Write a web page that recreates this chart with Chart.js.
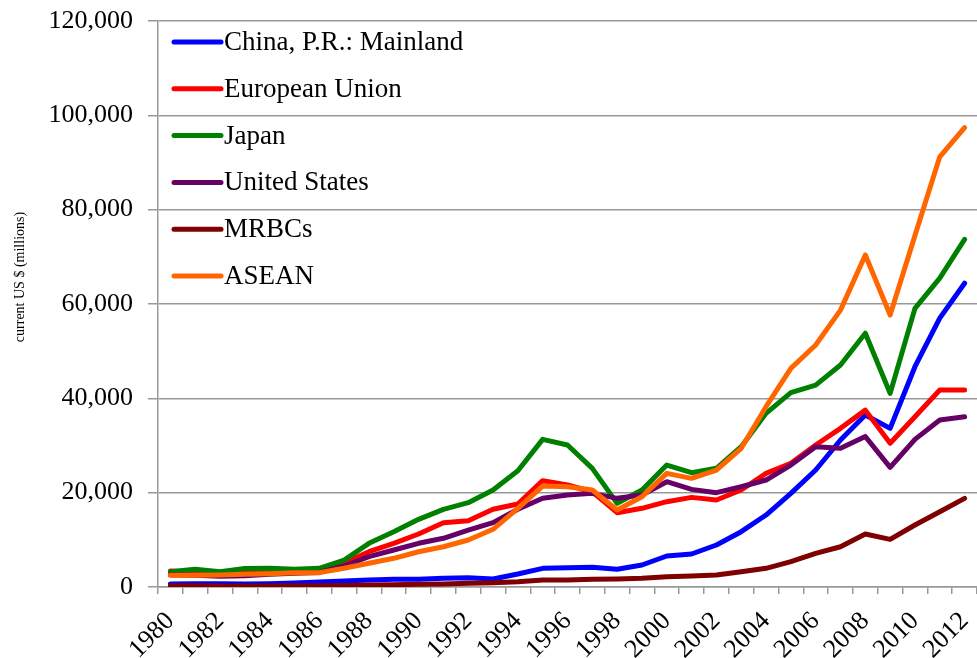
<!DOCTYPE html>
<html>
<head>
<meta charset="utf-8">
<script src="https://cdn.jsdelivr.net/npm/chart.js@4/dist/chart.umd.min.js"></script>
<style>
    body { margin: 0; background: #fff; }
    #wrap { width: 977px; height: 658px; }
</style>
</head>
<body>
<div id="wrap"><canvas id="fdiChart" width="977" height="658"></canvas></div>
<script>

/* =======================
   DADOS
======================= */

const years = [
    "1980","1981","1982","1983","1984","1985","1986","1987","1988","1989",
    "1990","1991","1992","1993","1994","1995","1996","1997","1998","1999",
    "2000","2001","2002","2003","2004","2005","2006","2007","2008","2009",
    "2010","2011","2012"
];

const china = [
    640, 700, 700, 650, 700, 850, 1060, 1270, 1480, 1630,
    1630, 1840, 1970, 1700, 2760, 3960, 4100, 4170, 3750, 4660,
    6570, 7000, 8900, 11730, 15260, 19860, 24800, 31160, 36460, 33640,
    46700, 57000, 64400
];

const europeanUnion = [
    3400, 3200, 3000, 3000, 3100, 3200, 3300, 5150, 7480, 9260,
    11240, 13640, 14060, 16470, 17600, 22540, 21620, 20200, 15760, 16680,
    18090, 19000, 18440, 20560, 24100, 26220, 30100, 33640, 37500, 30460,
    36100, 41760, 41760
];

const japan = [
    3250, 3750, 3250, 3900, 3960, 3750, 3960, 5720, 9260, 11730,
    14350, 16470, 17880, 20560, 24660, 31300, 30100, 25160, 17740, 20560,
    25860, 24240, 25160, 29750, 36820, 41200, 42800, 47060, 53800, 41060,
    59080, 65500, 73700
];

const unitedStates = [
    2600, 2500, 2300, 2400, 2690, 2900, 3100, 4450, 6430, 7840,
    9260, 10320, 12080, 13640, 16470, 18800, 19500, 19860, 18800, 19500,
    22330, 20700, 20000, 21260, 22680, 25860, 29750, 29400, 31900, 25370,
    31300, 35400, 36100
];

const mrbcs = [
    280, 250, 230, 220, 230, 250, 280, 320, 420, 500,
    570, 640, 780, 920, 1130, 1480, 1480, 1630, 1700, 1840,
    2190, 2330, 2540, 3250, 3960, 5370, 7140, 8540, 11240, 10100,
    13140, 15960, 18800
];

const asean = [
    2500, 2500, 2540, 2690, 2830, 3040, 3040, 3960, 5020, 6080,
    7480, 8540, 9960, 12230, 16680, 21400, 21260, 20560, 16320, 19150,
    24100, 23040, 24800, 29400, 38230, 46360, 51300, 58700, 70400, 57660,
    74500, 91200, 97400
];

const seriesNames = [
    "China, P.R.: Mainland",
    "European Union",
    "Japan",
    "United States",
    "MRBCs",
    "ASEAN"
];

const seriesColors = ["#0000FF", "#FF0000", "#008000", "#660066", "#7F0000", "#FF6600"];

const yAxisTitle = "current US $ (millions)";

/* =======================
   LEGENDA E TITULO
======================= */

const FONT = "'Liberation Serif', 'Times New Roman', serif";

const customDecor = {
    id: "customDecor",
    afterDraw(chart) {

        const ctx = chart.ctx;

        ctx.save();

        chart.data.datasets.forEach((ds, i) => {

            const y = 42 + i * 46.8;

            ctx.strokeStyle = ds.borderColor;
            ctx.lineWidth = 5;
            ctx.lineCap = "round";
            ctx.beginPath();
            ctx.moveTo(174, y);
            ctx.lineTo(221, y);
            ctx.stroke();

            ctx.fillStyle = "#000";
            ctx.font = "27px " + FONT;
            ctx.textAlign = "left";
            ctx.textBaseline = "middle";
            ctx.fillText(ds.label, 224, y + 1);
        });

        // titulo do eixo y
        ctx.translate(20, 277);
        ctx.rotate(-Math.PI / 2);
        ctx.font = "14px " + FONT;
        ctx.textAlign = "center";
        ctx.textBaseline = "middle";
        ctx.fillText(yAxisTitle, 0, 0);

        ctx.restore();
    }
};

/* =======================
   GRAFICO
======================= */

function buildDatasets() {

    const values = [china, europeanUnion, japan, unitedStates, mrbcs, asean];

    return values.map((data, i) => ({
        label: seriesNames[i],
        data: data,
        borderColor: seriesColors[i],
        backgroundColor: seriesColors[i],
        borderWidth: 5,
        pointRadius: 0,
        tension: 0,
        borderCapStyle: "round",
        borderJoinStyle: "round",
        order: values.length - i
    }));
}

new Chart(
    document.getElementById("fdiChart"),
    {
        type: "line",
        data: {
            labels: years,
            datasets: buildDatasets()
        },
        options: {
            responsive: false,
            animation: false,
            layout: {
                padding: { left: 0, top: 21, right: 0, bottom: 0 }
            },
            plugins: {
                legend: { display: false },
                tooltip: { enabled: false }
            },
            scales: {
                x: {
                    offset: true,
                    afterFit: scale => {
                        scale.height = 71;
                        scale.paddingLeft = 0;
                        scale.paddingRight = 0;
                    },
                    grid: {
                        offset: true,
                        drawOnChartArea: false,
                        drawTicks: true,
                        tickLength: 7,
                        color: "#999",
                        lineWidth: 1.5
                    },
                    border: { color: "#999", width: 1.5 },
                    ticks: {
                        autoSkip: false,
                        maxRotation: 45,
                        minRotation: 45,
                        padding: 12,
                        color: "#000",
                        font: { family: FONT, size: 26 },
                        callback: function (val, idx) {
                            return idx % 2 === 0 ? this.getLabelForValue(val) : "";
                        }
                    }
                },
                y: {
                    min: 0,
                    max: 120000,
                    afterFit: scale => {
                        scale.width = 158;
                        scale.paddingTop = 0;
                        scale.paddingBottom = 0;
                    },
                    grid: {
                        color: "#999",
                        lineWidth: 1.5,
                        tickLength: 10
                    },
                    border: { color: "#999", width: 1.5 },
                    ticks: {
                        stepSize: 20000,
                        padding: 15,
                        color: "#000",
                        font: { family: FONT, size: 26 },
                        callback: v => v.toLocaleString("en-US")
                    }
                }
            }
        },
        plugins: [customDecor]
    }
);

</script>
</body>
</html>
